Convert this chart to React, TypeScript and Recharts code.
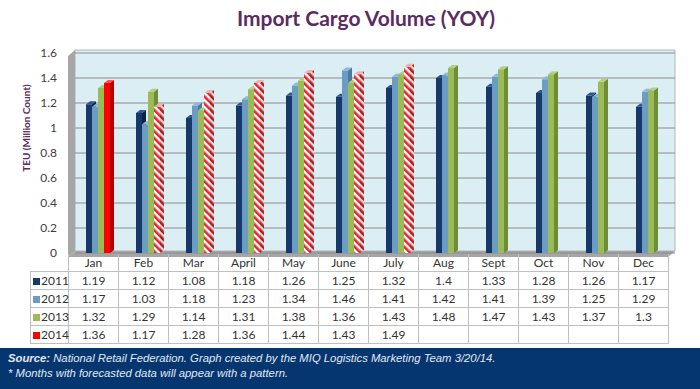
import { BarChart, Bar, YAxis, XAxis, CartesianGrid, Cell } from 'recharts'

const MONTHS = ['Jan', 'Feb', 'Mar', 'April', 'May', 'June', 'July', 'Aug', 'Sept', 'Oct', 'Nov', 'Dec']
const V2011 = [1.19, 1.12, 1.08, 1.18, 1.26, 1.25, 1.32, 1.4, 1.33, 1.28, 1.26, 1.17]
const V2012 = [1.17, 1.03, 1.18, 1.23, 1.34, 1.46, 1.41, 1.42, 1.41, 1.39, 1.25, 1.29]
const V2013 = [1.32, 1.29, 1.14, 1.31, 1.38, 1.36, 1.43, 1.48, 1.47, 1.43, 1.37, 1.3]
const V2014 = [1.36, 1.17, 1.28, 1.36, 1.44, 1.43, 1.49, null, null, null, null, null]
const FORECAST_2014 = [false, true, true, true, true, true, true, false, false, false, false, false]
const Y_TICKS = [0, 0.2, 0.4, 0.6, 0.8, 1, 1.2, 1.4, 1.6]

const SERIES = [
  { key: 'y2011', name: '2011', values: V2011, color: '#17386b', side: '#0d2348', top: '#2f5592' },
  { key: 'y2012', name: '2012', values: V2012, color: '#6b9dc2', side: '#4a7a9e', top: '#8fb8d6' },
  { key: 'y2013', name: '2013', values: V2013, color: '#9bbb59', side: '#6f8c36', top: '#b5cf80' },
  { key: 'y2014', name: '2014', values: V2014, color: '#ff0000', side: '#b30000', top: '#ff5050' },
]

const data = MONTHS.map((m, i) => {
  const row: any = { month: m }
  SERIES.forEach(s => { row[s.key] = s.values[i] })
  return row
})

const D = 4
const DY = 3

function Bar3D(props: any) {
  const { x, y, width, height, fill, side, top } = props
  if (height == null || !(height > 0) || isNaN(y)) return null
  const fx = x + 4
  const w = width
  return (
    <g>
      <rect x={fx} y={y} width={w} height={height} fill={fill} />
      <polygon points={`${fx + w},${y} ${fx + w + D},${y - DY} ${fx + w + D},${y + height - DY} ${fx + w},${y + height}`} fill={side} />
      <polygon points={`${fx},${y} ${fx + D},${y - DY} ${fx + w + D},${y - DY} ${fx + w},${y}`} fill={top} />
    </g>
  )
}

const cell: any = { borderRight: '1px solid #bfbfbf', borderBottom: '1px solid #bfbfbf', textAlign: 'center', padding: 0, height: 17, lineHeight: '17px', fontSize: 12, color: '#333' }

export default function App() {
  return (
    <div style={{ position: 'fixed', left: 0, top: 0, width: 700, height: 389, background: '#fff', overflow: 'hidden', fontFamily: 'Lato, sans-serif' }}>
      <div style={{ position: 'absolute', left: 0, top: 5, width: 732, textAlign: 'center', fontSize: 21, fontWeight: 700, color: '#5a2d62' }}>
        Import Cargo Volume (YOY)
      </div>
      <svg width={700} height={270} style={{ position: 'absolute', left: 0, top: 0 }}>
        <rect x={75} y={50} width={600} height={201} fill="#dbeef4" stroke="#a6a6a6" strokeWidth={0.8} />
        <polygon points="68,56 75,50 75,251 68,257" fill="#a6a6a6" />
        <polygon points="68,257 75,251 675,251 668,257" fill="#a6a6a6" />
      </svg>
      <div style={{ position: 'absolute', left: 0, top: 0 }}>
        <BarChart width={700} height={262} data={data} margin={{ top: 53, right: 32, bottom: 9, left: 8 }} barCategoryGap="28%" barGap={0}>
          <defs>
            <pattern id="hatch" patternUnits="userSpaceOnUse" width={5} height={5} patternTransform="rotate(-45)">
              <rect x={0} y={0} width={5} height={5} fill="#ffffff" />
              <rect x={0} y={0} width={2.6} height={5} fill="#e8242c" />
            </pattern>
            <pattern id="hatchSide" patternUnits="userSpaceOnUse" width={5} height={5} patternTransform="rotate(-45)">
              <rect x={0} y={0} width={5} height={5} fill="#d9d9d9" />
              <rect x={0} y={0} width={2.6} height={5} fill="#b01a20" />
            </pattern>
          </defs>
          <CartesianGrid vertical={false} stroke="#8c8c8c" strokeWidth={1} x={75} width={600} />
          <XAxis dataKey="month" hide />
          <YAxis domain={[0, 1.6]} ticks={Y_TICKS} axisLine={false} tickLine={false} width={60}
            tick={{ fontSize: 12, fill: '#404040', fontFamily: 'Lato, sans-serif' }} tickMargin={5} />
          {SERIES.map(s => (
            <Bar key={s.key} dataKey={s.key} name={s.name} fill={s.color} isAnimationActive={false}
              shape={(p: any) => <Bar3D {...p} side={s.key === 'y2014' && FORECAST_2014[p.index] ? 'url(#hatchSide)' : s.side} top={s.key === 'y2014' && FORECAST_2014[p.index] ? '#f2b0b0' : s.top} />}>
              {data.map((_, i) => (
                <Cell key={i} fill={s.key === 'y2014' && FORECAST_2014[i] ? 'url(#hatch)' : s.color} />
              ))}
            </Bar>
          ))}
        </BarChart>
      </div>
      <div style={{ position: 'absolute', left: 26, top: 128, transform: 'translate(-50%, -50%) rotate(-90deg)', whiteSpace: 'nowrap', fontSize: 10, fontWeight: 700, color: '#5a2d62', transformOrigin: 'center' }}>
        TEU (Million Count)
      </div>
      <table style={{ position: 'absolute', left: 30, top: 254, borderCollapse: 'collapse', tableLayout: 'fixed', width: 638, fontFamily: 'Lato, sans-serif' }}>
        <colgroup>
          <col style={{ width: 38 }} />
          {MONTHS.map(m => <col key={m} style={{ width: 50 }} />)}
        </colgroup>
        <tbody>
          <tr>
            <td style={{ ...cell, borderBottom: '1px solid #bfbfbf' }} />
            {MONTHS.map(m => <td key={m} style={cell}>{m}</td>)}
          </tr>
          {SERIES.map(s => (
            <tr key={s.key}>
              <td style={{ ...cell, borderLeft: '1px solid #bfbfbf', textAlign: 'left', paddingLeft: 2, whiteSpace: 'nowrap' }}>
                <span style={{ display: 'inline-block', width: 7, height: 7, background: s.color, marginRight: 1 }} />{s.name}
              </td>
              {s.values.map((v, i) => <td key={i} style={cell}>{v == null ? '' : String(v)}</td>)}
            </tr>
          ))}
        </tbody>
      </table>
      <div style={{ position: 'absolute', left: 0, top: 348, width: 700, height: 41, background: '#053670', color: '#e3e8f0', fontFamily: '"Liberation Sans", Arial, sans-serif', fontStyle: 'italic', fontSize: 11.3, lineHeight: '15px', paddingTop: 3, paddingLeft: 8, boxSizing: 'border-box' }}>
        <div><b>Source:</b> National Retail Federation. Graph created by the MIQ Logistics Marketing Team 3/20/14.</div>
        <div>* Months with forecasted data will appear with a pattern.</div>
      </div>
    </div>
  )
}
